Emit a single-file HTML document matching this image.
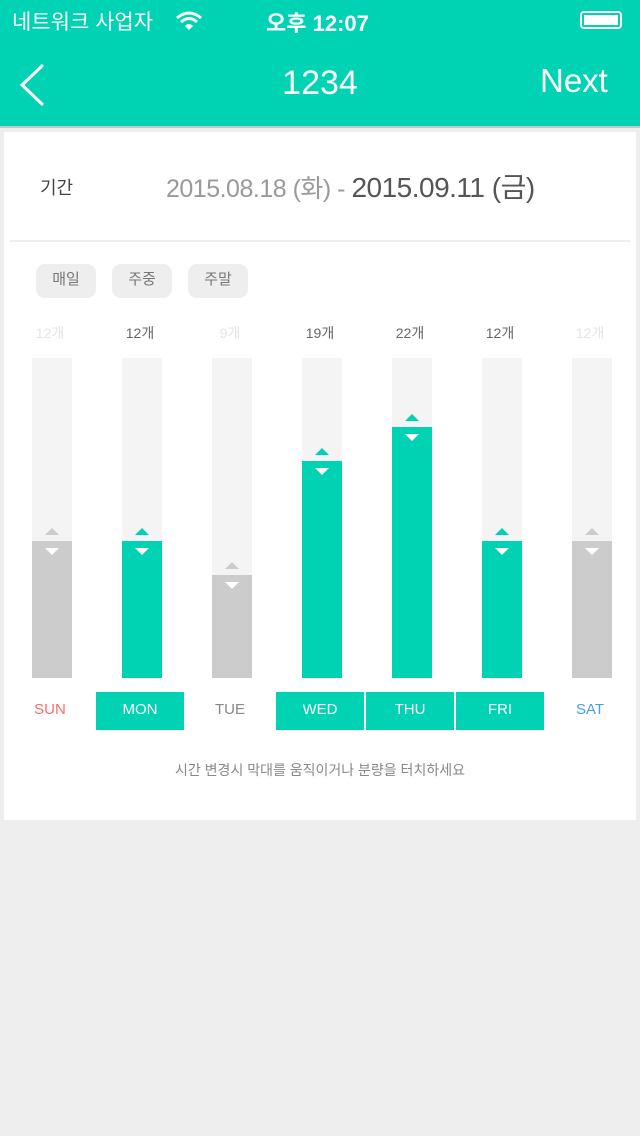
<!DOCTYPE html>
<html><head><meta charset="utf-8">
<style>
body{margin:0;width:640px;height:1136px;background:#eeeeee;font-family:"Liberation Sans","Noto Sans CJK KR",sans-serif;position:relative;overflow:hidden}
.abs{position:absolute}
#hdr{left:0;top:0;width:640px;height:128px;background:#00d2b4;border-bottom:2px solid #c8c8c8;box-sizing:border-box}
#card{left:4px;top:132px;width:632px;height:688px;background:#fff}
.pill{top:264px;height:34px;width:60px;background:#eeeeee;border-radius:9px;font-size:15px;color:#777;text-align:center;line-height:32px}
.day{top:692px;height:38px;width:88px;text-align:center;line-height:36px;font-size:15px}
</style></head><body>
<div id="hdr" class="abs">
  <div class="abs" style="left:12px;top:6px;font-size:21px;color:#fff">네트워크 사업자</div>
  <svg class="abs" style="left:175px;top:10px" width="28" height="22"><path d="M2 8 Q14 -2 26 8" stroke="#fff" stroke-width="3" fill="none"/><path d="M6 12 Q14 5 22 12" stroke="#fff" stroke-width="3" fill="none"/><path d="M10 16 Q14 12 18 16 L14 20Z" fill="#fff"/></svg>
  <div class="abs" style="left:266px;top:6px;font-size:22px;color:#fff;font-weight:bold">오후 12:07</div>
  <div class="abs" style="left:580px;top:11px;width:42px;height:18px;border:2px solid #fff;border-radius:4px;box-sizing:border-box;padding:2px"><div style="background:#fff;width:100%;height:100%"></div></div>
  <svg class="abs" style="left:18px;top:62px" width="30" height="46"><path d="M25 3 L4 23 L25 43" stroke="#fff" stroke-width="3" fill="none"/></svg>
  <div class="abs" style="left:0;width:640px;top:64px;text-align:center;font-size:34px;color:#fff">1234</div>
  <div class="abs" style="left:540px;top:62px;font-size:33px;color:#fff">Next</div>
</div>
<div id="card" class="abs"></div>
<div class="abs" style="left:40px;top:174px;font-size:18px;color:#444">기간</div>
<div class="abs" style="left:166px;top:166px;font-size:25px;color:#999;white-space:nowrap;letter-spacing:-0.5px">2015.08.18 (화) - <span style="color:#555;font-size:28px">2015.09.11 (금)</span></div>
<div class="abs" style="left:10px;top:240px;width:620px;height:2px;background:#eee"></div>
<div class="abs pill" style="left:36px">매일</div>
<div class="abs pill" style="left:112px">주중</div>
<div class="abs pill" style="left:188px">주말</div>
<div id="chart" class="abs" style="left:0;top:0"></div>
<div class="abs" style="left:0;width:640px;top:760px;text-align:center;font-size:14px;color:#888">시간 변경시 막대를 움직이거나 분량을 터치하세요</div>
<script>
const days=["SUN","MON","TUE","WED","THU","FRI","SAT"];
const values=[12,12,9,19,22,12,12];
const active=[false,true,false,true,true,true,false];
const maxVal=28;
const chart=document.getElementById('chart');
const trackTop=358,trackH=320,x0=32,step=90,bw=40;
function y(v){return trackTop+trackH-v/maxVal*trackH;}
function mk(tag,css,txt){const e=document.createElement(tag);e.className='abs';e.style.cssText=css;if(txt!==undefined)e.textContent=txt;chart.appendChild(e);return e;}
days.forEach((d,i)=>{
  const x=x0+i*step, on=active[i], v=values[i], top=y(v);
  const col=on?'#00d2b4':'#cccccc';
  const lab=mk('div',`left:${x-32}px;width:100px;top:323px;text-align:center;font-size:14px;color:${on?'#666':'#e4e4e4'}`,v+'개');
  
  
  const tr=mk('div',`left:${x}px;top:${trackTop}px;width:${bw}px;height:${trackH}px;background:#f4f4f4`);
  
  
  const b=mk('div',`left:${x}px;top:${top}px;width:${bw}px;height:${trackTop+trackH-top}px;background:${col}`);
  
  
  const up=mk('div',`left:${x+13}px;top:${top-13}px;width:0;height:0;border-left:7px solid transparent;border-right:7px solid transparent;border-bottom:7px solid ${col}`);
  
  
  const dn=mk('div',`left:${x+13}px;top:${top+7}px;width:0;height:0;border-left:7px solid transparent;border-right:7px solid transparent;border-top:7px solid #fff`);
  
  
  const tc=i==0?'#ff6b6b':i==6?'#4a9cf0':(on?'#fff':'#888');
  const dl=mk('div',`left:${x+18-44}px;background:${on?'#00d2b4':'transparent'};color:${tc}`,d);
  dl.classList.add('day');
  
  
});
</script>
</body></html>
